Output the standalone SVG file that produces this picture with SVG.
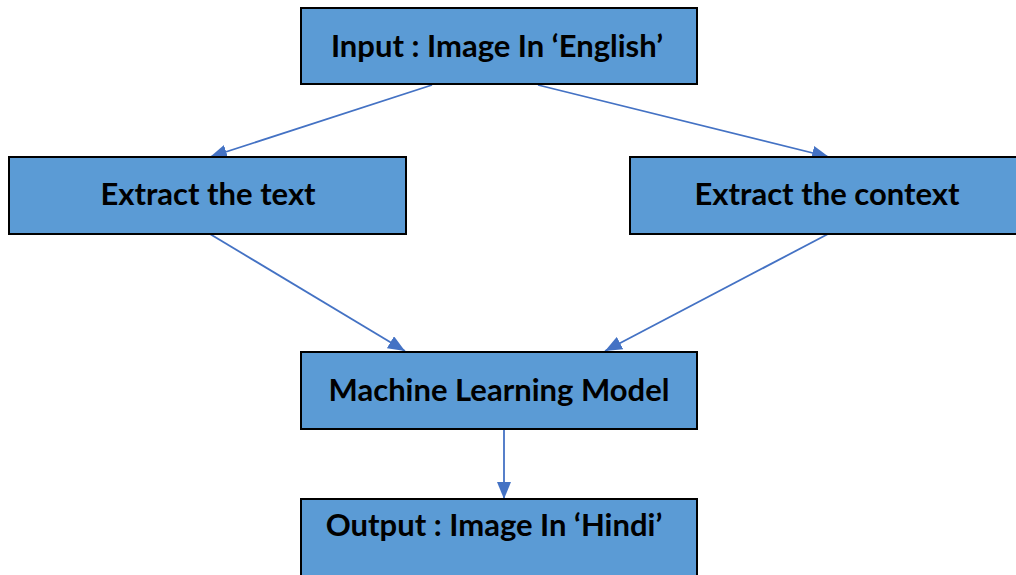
<svg xmlns="http://www.w3.org/2000/svg" width="1016" height="575" viewBox="0 0 1016 575">
  <style>
    .box { fill: #5B9BD5; stroke: #000; stroke-width: 2; }
    .label { font-family: Lato, "Open Sans", "Liberation Sans", sans-serif; font-weight: 700; font-size: 31px; fill: #000; text-anchor: middle; }
    .edge { stroke: #4472C4; stroke-width: 1.8; fill: none; marker-end: url(#head); }
  </style>
  <defs>
    <marker id="head" viewBox="0 0 10 10" refX="10" refY="5" markerWidth="17" markerHeight="14" markerUnits="userSpaceOnUse" orient="auto" preserveAspectRatio="none">
      <path d="M0,0 L10,5 L0,10 z" fill="#4472C4"/>
    </marker>
  </defs>
  <rect width="1016" height="575" fill="#fff"/>

  <g id="connectors">
    <line class="edge" x1="432" y1="85" x2="210" y2="157"/>
    <line class="edge" x1="538" y1="85" x2="829" y2="157"/>
    <line class="edge" x1="210" y1="234" x2="405" y2="351"/>
    <line class="edge" x1="828" y1="234" x2="605" y2="351"/>
    <line class="edge" x1="504" y1="429" x2="504" y2="499"/>
  </g>

  <g id="input">
    <rect class="box" x="301" y="8" width="396" height="76"/>
    <text class="label" x="497" y="57">Input : Image In ‘English’</text>
  </g>
  <g id="extract-text">
    <rect class="box" x="9" y="157" width="397" height="77"/>
    <text class="label" x="208" y="205">Extract the text</text>
  </g>
  <g id="extract-context">
    <rect class="box" x="630" y="157" width="396" height="77"/>
    <text class="label" x="827" y="205">Extract the context</text>
  </g>
  <g id="model">
    <rect class="box" x="301" y="352" width="396" height="77"/>
    <text class="label" x="499" y="401">Machine Learning Model</text>
  </g>
  <g id="output">
    <rect class="box" x="301" y="499" width="396" height="90"/>
    <text class="label" x="494" y="536">Output : Image In ‘Hindi’</text>
  </g>
</svg>
